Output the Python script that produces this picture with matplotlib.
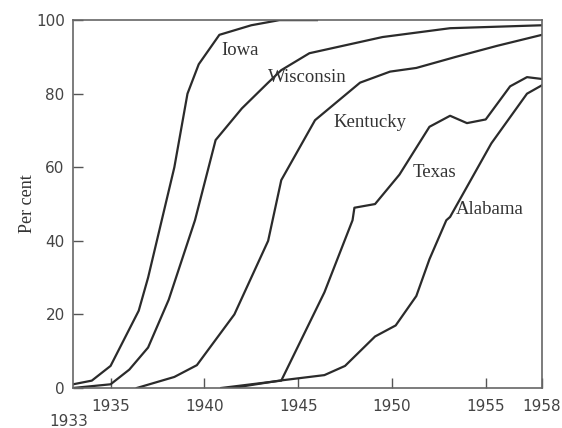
import matplotlib
matplotlib.use('Agg')
import matplotlib.pyplot as plt

# ===== DANE =====
iowa_years = [1933, 1934, 1935, 1936, 1936.5, 1937, 1937.7, 1938.4, 1939.1, 1939.7, 1940.8, 1942.5, 1944, 1946]
iowa_pct = [1, 2, 6, 16, 21, 30, 45, 60, 80, 88, 96, 98.6, 100, 100]

wisc_years = [1933, 1935, 1936, 1937, 1938.1, 1939.5, 1940.6, 1942, 1943.4, 1944.1, 1945.6, 1949.5, 1953.1, 1958]
wisc_pct = [0, 1, 5, 11, 24, 45.6, 67.4, 76, 83, 86.4, 91, 95.4, 97.8, 98.6]

kent_years = [1936.4, 1938.4, 1939.6, 1941.6, 1943.4, 1944.1, 1945.9, 1948.3, 1949.9, 1951.3, 1953.4, 1955.6, 1958]
kent_pct = [0, 3, 6.2, 20, 40, 56.5, 72.8, 83, 86, 87, 90, 93, 96]

texas_years = [1940.9, 1944.1, 1946.4, 1947.9, 1948.0, 1949.1, 1950.4, 1952.0, 1953.1, 1954.0, 1955.0, 1956.3, 1957.2, 1958]
texas_pct = [0, 2, 26, 45.6, 49, 50, 58, 71, 74, 72, 73, 82, 84.5, 84]

alab_years = [1941.5, 1944, 1946.4, 1947.5, 1949.1, 1950.2, 1951.3, 1952.0, 1952.9, 1953.1, 1955.3, 1957.2, 1958]
alab_pct = [0, 2, 3.5, 6, 14, 17, 25, 35, 45.6, 46.5, 66.5, 80, 82.3]

series = [
    (iowa_years, iowa_pct),
    (wisc_years, wisc_pct),
    (kent_years, kent_pct),
    (texas_years, texas_pct),
    (alab_years, alab_pct),
]

# etykiety stanow: (tekst, rok, procent)
labels = [
    ("Iowa", 1940.9, 91.8),
    ("Wisconsin", 1943.4, 84.5),
    ("Kentucky", 1946.9, 72.3),
    ("Texas", 1951.1, 58.7),
    ("Alabama", 1953.4, 48.4),
]

x_ticks = [1935, 1940, 1945, 1950, 1955, 1958]
y_ticks = [0, 20, 40, 60, 80, 100]

# ===== WYKRES =====
line_color = '#2b2b2b'
fig = plt.figure(figsize=(5.62, 4.28), dpi=100)
ax = fig.add_axes([0.130, 0.0935, 0.8344, 0.8595])

for xs, ys in series:
    ax.plot(xs, ys, color=line_color, linewidth=1.6, solid_joinstyle='round')

for txt, x, y in labels:
    ax.text(x, y, txt, fontsize=13.5, family='Liberation Serif', color='#333333',
            ha='left', va='center')

ax.set_xlim(1933, 1958)
ax.set_ylim(0, 100)
ax.set_xticks(x_ticks)
ax.set_yticks(y_ticks)
ax.tick_params(direction='in', length=7, width=1, colors='#555555', labelcolor='#444444',
               labelsize=11, pad=6)
ax.tick_params(axis='x', pad=8)
for sp in ax.spines.values():
    sp.set_color('#666666')
    sp.set_linewidth(1.2)

# rok 1933 przesuniety nizej
ax.annotate("1933", xy=(1933, 0), xytext=(-3, -19), textcoords='offset points',
            ha='center', va='top', fontsize=11, color='#444444')

ax.set_ylabel("Per cent", fontsize=13, family='Liberation Serif', color='#333333', labelpad=0)

plt.savefig('out.png', dpi=100)
